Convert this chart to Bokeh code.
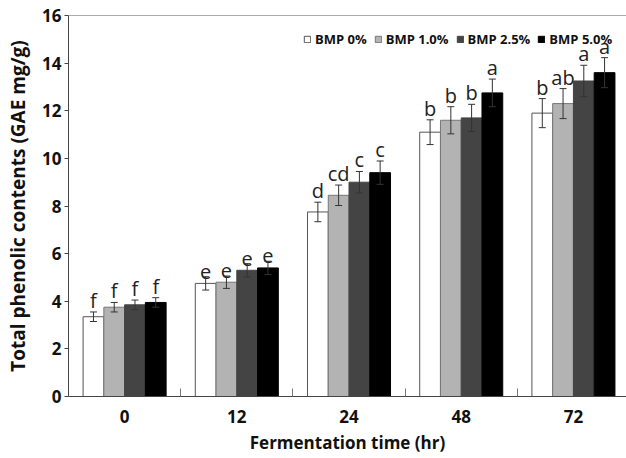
from bokeh.plotting import figure
from bokeh.models import (ColumnDataSource, Range1d, FixedTicker, Whisker, TeeHead,
                          Legend, LegendItem, Span)
from bokeh.core.properties import value
from bokeh.embed import file_html
from bokeh.resources import INLINE

# ---- data ----
times = ["0", "12", "24", "48", "72"]
series = ["BMP 0%", "BMP 1.0%", "BMP 2.5%", "BMP 5.0%"]
bmp0 = [3.35, 4.75, 7.75, 11.1, 11.9]
bmp1 = [3.75, 4.8, 8.45, 11.6, 12.3]
bmp25 = [3.85, 5.3, 9.0, 11.7, 13.25]
bmp5 = [3.95, 5.4, 9.4, 12.75, 13.6]
err0 = [0.2, 0.28, 0.41, 0.52, 0.61]
err1 = [0.2, 0.26, 0.43, 0.57, 0.63]
err25 = [0.2, 0.28, 0.45, 0.57, 0.66]
err5 = [0.2, 0.28, 0.49, 0.58, 0.63]
let0 = ["f", "e", "d", "b", "b"]
let1 = ["f", "e", "cd", "b", "ab"]
let25 = ["f", "e", "c", "b", "a"]
let5 = ["f", "e", "c", "a", "a"]
y_ticks = [0, 2, 4, 6, 8, 10, 12, 14, 16]

values = [bmp0, bmp1, bmp25, bmp5]
errors = [err0, err1, err25, err5]
letters = [let0, let1, let25, let5]
fills = ["#ffffff", "#b3b3b3", "#444444", "#000000"]
lines = ["#555555", "#777777", "#444444", "#000000"]

FONT = "Open Sans"
bar_w = 0.185
n = len(times)
centers = [i + 0.5 for i in range(n)]

p = figure(width=626, height=458, output_backend="svg", toolbar_location=None,
           x_range=Range1d(0, 4.973), y_range=Range1d(0, 16),
           min_border_left=68, min_border_right=0, min_border_top=15, min_border_bottom=62)
p.outline_line_color = None
p.grid.visible = False
p.background_fill_color = "white"
p.border_fill_color = "white"

renderers = []
for k in range(4):
    xs = [c + (k - 1.5) * bar_w for c in centers]
    src = ColumnDataSource(dict(
        x=xs, top=values[k],
        upper=[v + e for v, e in zip(values[k], errors[k])],
        lower=[v - e for v, e in zip(values[k], errors[k])],
        lab=letters[k]))
    r = p.vbar(x="x", top="top", width=bar_w, source=src,
               fill_color=fills[k], line_color=lines[k], line_width=1)
    renderers.append(r)
    w = Whisker(base="x", upper="upper", lower="lower", source=src,
                line_color="#333333", line_width=1, level="overlay",
                upper_head=TeeHead(size=7, line_color="#333333", line_width=1),
                lower_head=TeeHead(size=7, line_color="#333333", line_width=1))
    p.add_layout(w)
    p.text(x="x", y="upper", text="lab", source=src, text_font=value(FONT),
           text_font_size="20px", text_color="#222222", text_align="center",
           text_baseline="bottom", y_offset=2)

# top frame line
p.add_layout(Span(location=16, dimension="width", line_color="#555555", line_width=1))

# x axis
xa = p.xaxis[0]
xa.ticker = FixedTicker(ticks=centers, minor_ticks=[1, 2, 3, 4])
xa.major_label_overrides = {c: t for c, t in zip(centers, times)}
xa.major_tick_line_color = None
xa.minor_tick_in = 8
xa.minor_tick_out = 0
xa.minor_tick_line_color = "#777777"
xa.axis_line_color = "#444444"
xa.major_label_text_font = FONT
xa.major_label_text_font_size = "17px"
xa.major_label_text_font_style = "bold"
xa.major_label_text_color = "#111111"
xa.major_label_standoff = 7
xa.axis_label = "Fermentation time (hr)"
xa.axis_label_text_font = FONT
xa.axis_label_text_font_size = "17px"
xa.axis_label_text_font_style = "bold"
xa.axis_label_text_color = "#111111"
xa.axis_label_standoff = 5

# y axis
ya = p.yaxis[0]
ya.ticker = FixedTicker(ticks=y_ticks)
ya.minor_tick_line_color = None
ya.major_tick_in = 0
ya.major_tick_out = 4
ya.major_tick_line_color = "#444444"
ya.axis_line_color = "#444444"
ya.major_label_text_font = FONT
ya.major_label_text_font_size = "17px"
ya.major_label_text_font_style = "bold"
ya.major_label_text_color = "#111111"
ya.major_label_standoff = 3
ya.axis_label = "Total phenolic contents (GAE mg/g)"
ya.axis_label_text_font = FONT
ya.axis_label_text_font_size = "19px"
ya.axis_label_text_font_style = "bold"
ya.axis_label_text_color = "#111111"
ya.axis_label_standoff = 8

legend = Legend(items=[LegendItem(label=s, renderers=[r]) for s, r in zip(series, renderers)],
                orientation="horizontal", location=(235, 348),
                glyph_width=8, glyph_height=8, label_standoff=4, spacing=7,
                padding=0, margin=0, border_line_color=None, background_fill_alpha=0,
                label_text_font=FONT, label_text_font_size="13px",
                label_text_font_style="bold", label_text_color="#111111",
                label_height=16)
p.add_layout(legend)

open("out.html", "w").write(file_html(p, INLINE))
